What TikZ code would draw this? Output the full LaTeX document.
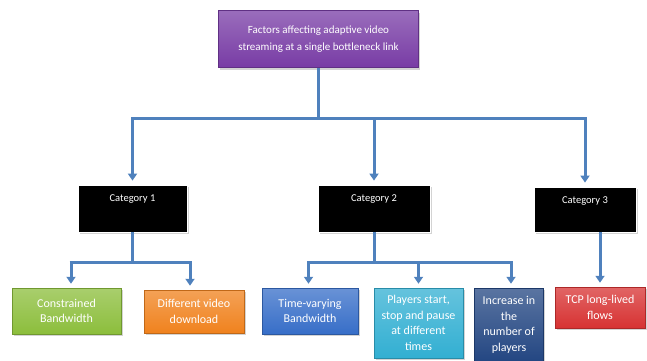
\documentclass[tikz,border=0pt]{standalone}
\usepackage{fontspec}
\setmainfont{Carlito}
\usetikzlibrary{arrows.meta,shadows}
\definecolor{linec}{RGB}{79,129,189}
\definecolor{purp}{RGB}{120,60,165}
\definecolor{grn}{RGB}{140,190,60}
\definecolor{org}{RGB}{240,130,30}
\definecolor{blu}{RGB}{55,110,200}
\definecolor{cya}{RGB}{50,175,210}
\definecolor{dblu}{RGB}{35,70,130}
\definecolor{rd}{RGB}{215,50,50}
\tikzset{
  box/.style={rectangle, inner sep=2pt, align=center, text=white,
    drop shadow={shadow xshift=1.5pt, shadow yshift=-2pt, opacity=0.35},
    font=\fontsize{12}{15.5}\selectfont},
  cbox/.style={box, draw=white, line width=0.8pt, fill=black,
    font=\fontsize{10.5}{13}\selectfont, anchor=center},
  shade box/.style={box, draw=#1!80!black, line width=0.5pt,
    top color=#1!75!white, bottom color=#1},
  line/.style={draw=linec, line width=3pt},
  arr/.style={line, -{Triangle[width=9pt,length=7pt]}, shorten >=4pt},
}
\begin{document}
\begin{tikzpicture}[x=1pt,y=-1pt]
\useasboundingbox (0,0) rectangle (647,360);
% top
\node[shade box=purp, minimum width=200pt, minimum height=57pt, font=\fontsize{11}{17}\selectfont]
  (top) at (318.5,39) {Factors affecting adaptive video\\streaming at a single bottleneck link};
% categories
\node[cbox, minimum width=109pt, minimum height=47pt, text depth=22pt, text height=8pt] (cat1) at (132.5,208.5) {Category 1};
\node[cbox, minimum width=112pt, minimum height=47pt, text depth=22pt, text height=8pt] (cat2) at (374,208.5) {Category 2};
\node[cbox, minimum width=102pt, minimum height=45pt, text depth=21pt, text height=8pt] (cat3) at (585,209.5) {Category 3};
% leaves
\node[shade box=grn, minimum width=109pt, minimum height=46pt] (green) at (66.5,311) {Constrained\\Bandwidth};
\node[shade box=org, minimum width=100pt, minimum height=43pt] (orange) at (194,311.5) {Different video\\download};
\node[shade box=blu, minimum width=96pt, minimum height=46pt] (tv) at (310,311) {Time-varying\\Bandwidth};
\node[shade box=cya, minimum width=89pt, minimum height=70pt] (cy) at (418.5,323) {Players start,\\stop and pause\\at different\\times};
\node[shade box=dblu, minimum width=69pt, minimum height=74pt] (db) at (509,325) {Increase in\\the\\number of\\players};
\node[shade box=rd, minimum width=90pt, minimum height=41pt] (red) at (600,307.5) {TCP long-lived\\flows};
% rows
\coordinate (r1) at (0,118);
\coordinate (r2) at (0,262);
% level 1 connectors
\draw[line] (top.south) -- (top.south |- r1);
\draw[line] ([xshift=-1.5pt]cat1.north |- r1) -- ([xshift=1.5pt]cat3.north |- r1);
\draw[arr] (cat1.north |- r1) -- (cat1.north);
\draw[arr] (cat2.north |- r1) -- (cat2.north);
\draw[arr] (cat3.north |- r1) -- (cat3.north);
% category 1 children
\draw[line] (cat1.south) -- (cat1.south |- r2);
\draw[line] ([xshift=3pt]green.north |- r2) -- ([xshift=-2.5pt]orange.north |- r2);
\draw[arr] ([xshift=4.5pt]green.north |- r2) -- ([xshift=4.5pt]green.north);
\draw[arr] ([xshift=-4pt]orange.north |- r2) -- ([xshift=-4pt]orange.north);
% category 2 children
\draw[line] (cat2.south) -- (cat2.south |- r2);
\draw[line] ([xshift=-3pt]tv.north |- r2) -- ([xshift=3.5pt]db.north |- r2);
\draw[arr] ([xshift=-1.5pt]tv.north |- r2) -- ([xshift=-1.5pt]tv.north);
\draw[arr] (cy.north |- r2) -- (cy.north);
\draw[arr] ([xshift=2pt]db.north |- r2) -- ([xshift=2pt]db.north);
% category 3 child
\draw[arr] (cat3.south -| red.north) -- (red.north);
\end{tikzpicture}
\end{document}
